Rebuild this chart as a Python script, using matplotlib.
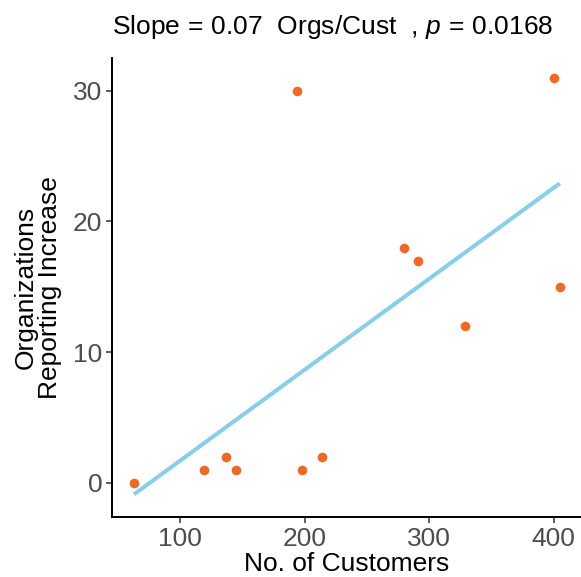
import numpy as np
import matplotlib
matplotlib.use("Agg")
import matplotlib.pyplot as plt

customers = [63, 119, 137, 145, 194, 198, 214, 280, 291, 329, 400, 405]
orgs = [0, 1, 2, 1, 30, 1, 2, 18, 17, 12, 31, 15]
x_ticks = [100, 200, 300, 400]
y_ticks = [0, 10, 20, 30]
title = r"$\mathrm{Slope}\,=\,0.07\ \ \mathrm{Orgs}/\mathrm{Cust}\ \ ,\,\mathit{p}\,=\,0.0168$"
x_label = "No. of Customers"
y_label = "Organizations\nReporting Increase"

plt.rcParams['font.family'] = ['Liberation Sans', 'DejaVu Sans']
plt.rcParams['mathtext.fontset'] = 'custom'
plt.rcParams['mathtext.rm'] = 'Liberation Sans'
plt.rcParams['mathtext.it'] = 'Liberation Sans:italic'
plt.rcParams['mathtext.bf'] = 'Liberation Sans:bold'

fig = plt.figure(figsize=(5.81, 5.77), dpi=100)
ax = fig.add_axes([112/581, 1-517/577, 1-112/581, (517-58)/577])

x = np.array(customers, dtype=float)
y = np.array(orgs, dtype=float)
b1, b0 = np.polyfit(x, y, 1)
xs = np.array([x.min(), x.max()])
ax.plot(xs, b0 + b1*xs, color='#87CEEB', lw=2.9, zorder=2, solid_capstyle='butt')
ax.scatter(x, y, s=48, color='#F26722', zorder=3, linewidths=0)

ax.set_xlim(45.3, 422)
ax.set_ylim(-2.6, 32.5)
ax.set_xticks(x_ticks)
ax.set_yticks(y_ticks)
ax.tick_params(axis='both', labelsize=19, labelcolor='#4D4D4D', color='#333333',
               length=4, width=1.1, direction='out', pad=3)
for s in ['top', 'right']:
    ax.spines[s].set_visible(False)
for s in ['left', 'bottom']:
    ax.spines[s].set_linewidth(1.4)
    ax.spines[s].set_color('black')

ax.set_xlabel(x_label, fontsize=19, color='black', labelpad=1)
ax.set_ylabel(y_label, fontsize=19, color='black', labelpad=8, linespacing=1.0)
fig.text(112/581, 1-34/577, title, fontsize=19, ha='left', va='baseline')

fig.savefig('out.png', dpi=100)
